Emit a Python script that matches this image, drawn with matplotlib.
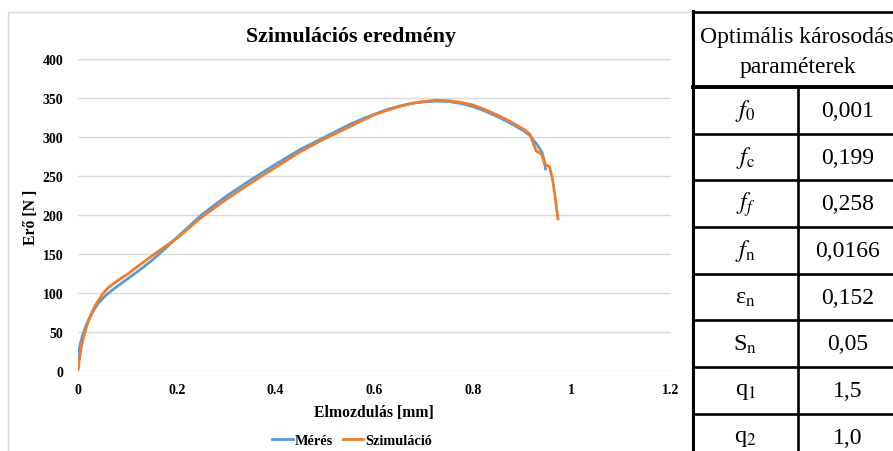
import matplotlib.pyplot as plt
from matplotlib.patches import Rectangle

plt.rcParams['font.family'] = ['Liberation Serif', 'DejaVu Serif']
plt.rcParams['mathtext.fontset'] = 'stix'

# Mérés (measured)
meres_x = [0, 0.002, 0.005, 0.01, 0.015, 0.02, 0.03, 0.04, 0.05, 0.06, 0.07, 0.085,
           0.1, 0.115, 0.13, 0.15, 0.175, 0.2, 0.25, 0.3, 0.35, 0.4, 0.45, 0.5,
           0.55, 0.575, 0.6, 0.625, 0.65, 0.675, 0.7, 0.725, 0.75, 0.775, 0.8,
           0.825, 0.85, 0.875, 0.9, 0.915, 0.93, 0.94, 0.945, 0.947]
meres_y = [15, 26, 36, 47, 56, 64, 76, 86, 93, 99, 104, 111,
           118, 125, 132, 142, 156, 171, 200, 224, 245, 265, 284, 300,
           316, 323, 329, 335, 339.5, 343, 345, 346, 345.5, 343, 339,
           333, 326, 318, 309, 302, 290, 280, 268, 259]

# Szimuláció (simulated)
szim_x = [0, 0.003, 0.006, 0.01, 0.014, 0.02, 0.028, 0.035, 0.041, 0.05, 0.06, 0.072,
          0.085, 0.1, 0.112, 0.125, 0.14, 0.155, 0.175, 0.2, 0.25, 0.3, 0.35, 0.4,
          0.45, 0.5, 0.55, 0.575, 0.6, 0.625, 0.65, 0.675, 0.7, 0.725, 0.75, 0.775,
          0.8, 0.825, 0.85, 0.875, 0.9, 0.915, 0.928, 0.939, 0.945, 0.955, 0.961,
          0.967, 0.972]
szim_y = [0, 16, 28, 40, 50, 62, 75, 84, 90, 99, 106, 112,
          118, 124, 130, 136, 143, 150, 159, 170, 197, 220, 241, 261,
          281, 298, 313, 321, 328.5, 334, 339, 343, 345.5, 347, 346.5, 344.5,
          341, 335, 328, 320, 311, 304, 282, 278, 265, 262, 246,
          220, 195]

x_ticks = [0, 0.2, 0.4, 0.6, 0.8, 1, 1.2]
x_tick_labels = ['0', '0.2', '0.4', '0.6', '0.8', '1', '1.2']
y_ticks = [0, 50, 100, 150, 200, 250, 300, 350, 400]

param_names = ['$f_0$', '$f_\\mathrm{c}$', '$f_f$', '$f_\\mathrm{n}$',
               'ε$_\\mathrm{n}$', 'S$_\\mathrm{n}$', 'q$_1$', 'q$_2$']
param_values = ['0,001', '0,199', '0,258', '0,0166', '0,152', '0,05', '1,5', '1,0']

W, H = 893, 452
fig = plt.figure(figsize=(W / 100, H / 100), dpi=100)

# pixel overlay: chart frame + table
bg = fig.add_axes([0, 0, 1, 1])
bg.set_xlim(0, W)
bg.set_ylim(H, 0)
bg.axis('off')
bg.add_patch(Rectangle((8, 13), 684, 470, fill=False, edgecolor='#d9d9d9', lw=1))

t_left, t_mid, t_right = 693, 798, 905
t_top, t_head = 13, 88
row_h = 46.67
bg.plot([t_left, t_right], [t_top, t_top], color='black', lw=1.9)
bg.plot([t_left, t_right], [t_head, t_head], color='black', lw=2.8)
bg.plot([t_left, t_left], [t_top - 1, H + 5], color='black', lw=2.2)
bg.plot([t_mid, t_mid], [t_head, H + 5], color='black', lw=1.9)
bg.text(t_mid + 2, 37, 'Optimális károsodási', ha='center', va='center', fontsize=17)
bg.text(t_mid, 68, 'paraméterek', ha='center', va='center', fontsize=17)
for i, (nm, val) in enumerate(zip(param_names, param_values)):
    yc = t_head + row_h * (i + 0.5)
    bg.text((t_left + t_mid) / 2, yc, nm, ha='center', va='center', fontsize=17.5)
    bg.text((t_mid + t_right) / 2 - 4, yc, val, ha='center', va='center', fontsize=17)
    if i > 0:
        y_line = t_head + row_h * i
        bg.plot([t_left, t_right], [y_line, y_line], color='black', lw=1.9)

# chart
ax = fig.add_axes([78 / W, 1 - 372 / H, (670.5 - 78) / W, (372 - 60) / H])
ax.set_facecolor('none')
ax.plot(meres_x, meres_y, color='#5B9BD5', lw=2, label='Mérés', solid_joinstyle='round')
ax.plot(szim_x, szim_y, color='#ED7D31', lw=2, label='Szimuláció', solid_joinstyle='round')
ax.set_xlim(0, 1.2)
ax.set_ylim(0, 400)
ax.set_xticks(x_ticks)
ax.set_xticklabels(x_tick_labels)
ax.set_yticks(y_ticks)
for s in ax.spines.values():
    s.set_visible(False)
ax.grid(axis='y', color='#d9d9d9', lw=1)
ax.set_axisbelow(True)
ax.tick_params(axis='both', length=0, labelsize=10)
ax.tick_params(axis='x', pad=9)
ax.tick_params(axis='y', pad=10.5)
for lab in ax.get_xticklabels() + ax.get_yticklabels():
    lab.set_fontweight('bold')

fig.text(350.5 / W, 1 - 42 / H, 'Szimulációs eredmény', ha='center', va='baseline',
         fontsize=15.8, fontweight='bold')
fig.text(374 / W, 1 - 417 / H, 'Elmozdulás [mm]', ha='center', va='baseline',
         fontsize=11.3, fontweight='bold')
fig.text(31 / W, 1 - 217 / H, 'Erő [N ]', ha='center', va='center', rotation=90,
         fontsize=11.3, fontweight='bold')

fig.legend(loc='center', bbox_to_anchor=(352 / W, 1 - 441 / H), ncol=2, frameon=False,
           prop={'weight': 'bold', 'size': 10.3}, handlelength=1.45, handletextpad=0.1,
           columnspacing=0.7, borderpad=0)

fig.savefig('out.png', dpi=100)
